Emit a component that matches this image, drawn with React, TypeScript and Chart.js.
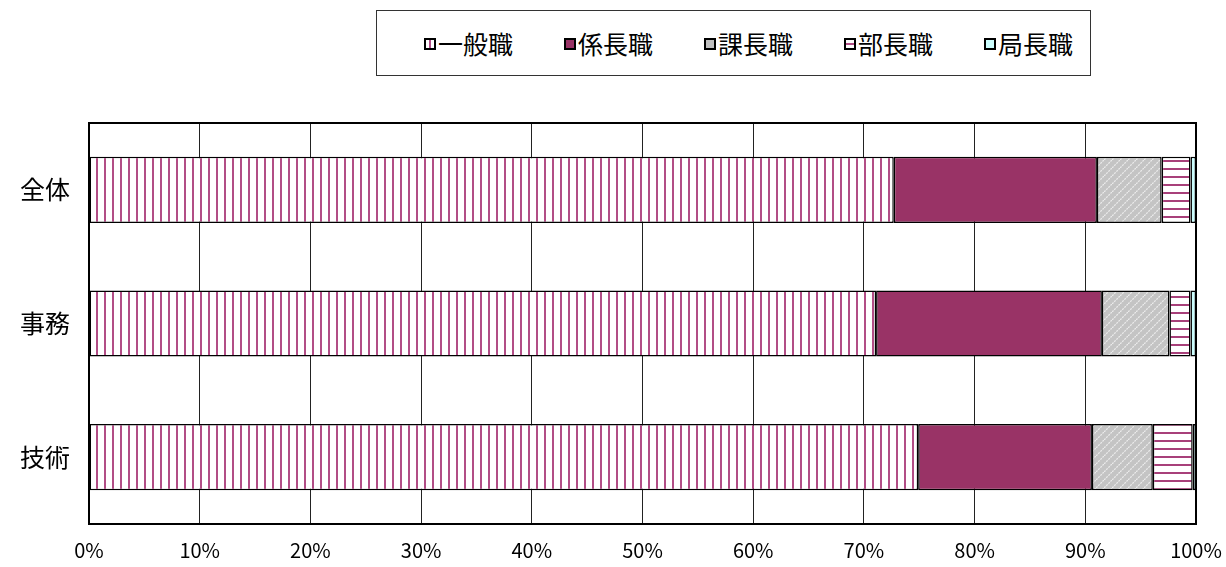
import React, { useEffect, useRef } from "react";
import { Chart, registerables } from "chart.js";

Chart.register(...registerables);

const categories = ["全体", "事務", "技術"];
const seriesNames = ["一般職", "係長職", "課長職", "部長職", "局長職"];
const ippan = [72.7, 71.1, 74.9];
const kakari = [18.35, 20.4, 15.7];
const kacho = [5.85, 6.1, 5.5];
const bucho = [2.6, 1.9, 3.6];
const kyoku = [0.5, 0.5, 0.3];
const xTicks = [0, 10, 20, 30, 40, 50, 60, 70, 80, 90, 100];

const FONT = "'Noto Sans CJK JP', 'Noto Sans', sans-serif";
const MAGENTA = "#993366";

function makePattern(kind: string): CanvasPattern | string {
  const c = document.createElement("canvas");
  c.width = 8;
  c.height = 8;
  const g = c.getContext("2d")!;
  if (kind === "vert") {
    g.fillStyle = "#ffffff";
    g.fillRect(0, 0, 8, 8);
    g.fillStyle = "#b24d86";
    g.fillRect(0, 0, 2, 8);
  } else if (kind === "horiz") {
    g.fillStyle = "#ffffff";
    g.fillRect(0, 0, 8, 8);
    g.fillStyle = "#a8407a";
    g.fillRect(0, 0, 8, 2);
  } else if (kind === "diag") {
    g.fillStyle = "#c4c4c4";
    g.fillRect(0, 0, 8, 8);
    g.strokeStyle = "#ececec";
    g.lineWidth = 1.2;
    g.setLineDash([2, 1]);
    g.beginPath();
    g.moveTo(-2, 10);
    g.lineTo(10, -2);
    g.stroke();
  }
  const p = g.createPattern(c, "repeat");
  return p || "#fff";
}

const swatchBg: string[] = [
  "linear-gradient(90deg,#fff 0 35%,#b24d86 35% 65%,#fff 65% 100%)",
  MAGENTA,
  "#c0c0c0",
  "linear-gradient(180deg,#fff 0 35%,#b24d86 35% 65%,#fff 65% 100%)",
  "#ccffff",
];

export default function App() {
  const ref = useRef<HTMLCanvasElement | null>(null);

  useEffect(() => {
    if (!ref.current) return;
    const fills = [
      makePattern("vert"),
      MAGENTA,
      makePattern("diag"),
      makePattern("horiz"),
      "#ccffff",
    ];
    const values = [ippan, kakari, kacho, bucho, kyoku];

    const borderPlugin = {
      id: "plotBorder",
      afterDatasetsDraw(chart: any) {
        const { ctx, chartArea } = chart;
        ctx.save();
        ctx.strokeStyle = "#000";
        ctx.lineWidth = 2;
        ctx.strokeRect(
          chartArea.left,
          chartArea.top,
          chartArea.right - chartArea.left,
          chartArea.bottom - chartArea.top
        );
        ctx.restore();
      },
    };

    const chart = new Chart(ref.current, {
      type: "bar",
      data: {
        labels: categories,
        datasets: seriesNames.map((name, i) => ({
          label: name,
          data: values[i],
          backgroundColor: fills[i] as any,
          borderColor: "#000",
          borderWidth: 1.5,
          borderSkipped: false,
          categoryPercentage: 1,
          barPercentage: 0.495,
        })),
      },
      options: {
        indexAxis: "y",
        animation: false,
        responsive: false,
        maintainAspectRatio: false,
        layout: { padding: { left: 0, right: 30, top: 123, bottom: 0 } },
        plugins: {
          legend: { display: false },
          tooltip: { enabled: false },
        },
        scales: {
          x: {
            stacked: true,
            min: 0,
            max: 100,
            afterBuildTicks(scale: any) {
              scale.ticks = xTicks.map((v) => ({ value: v }));
            },
            afterFit(scale: any) {
              scale.height = 43;
              scale.paddingLeft = 0;
              scale.paddingRight = 0;
            },
            grid: {
              color: "#222",
              lineWidth: 1,
              drawTicks: false,
            },
            border: { display: false },
            ticks: {
              padding: 14,
              color: "#000",
              font: { family: FONT, size: 20 },
              callback: (v: any) => v + "%",
            },
          },
          y: {
            stacked: true,
            afterFit(scale: any) {
              scale.width = 89;
            },
            grid: { display: false, drawTicks: false },
            border: { display: false },
            ticks: {
              padding: 19,
              color: "#000",
              font: { family: FONT, size: 25 },
            },
          },
        },
      },
      plugins: [borderPlugin],
    });
    return () => chart.destroy();
  }, []);

  return (
    <div
      style={{
        position: "absolute",
        left: 0,
        top: 0,
        width: 1226,
        height: 567,
        background: "#fff",
      }}
    >
      <canvas
        ref={ref}
        width={1226}
        height={567}
        style={{ position: "absolute", left: 0, top: 0, width: 1226, height: 567 }}
      />
      <div
        style={{
          position: "absolute",
          left: 376,
          top: 10,
          width: 713,
          height: 64,
          border: "1px solid #333",
          background: "#fff",
          boxSizing: "content-box",
        }}
      >
        {seriesNames.map((name, i) => (
          <div
            key={name}
            style={{
              position: "absolute",
              left: 47 + i * 140,
              top: 0,
              height: 64,
              display: "flex",
              alignItems: "center",
              fontFamily: FONT,
              fontSize: 25,
              color: "#000",
              whiteSpace: "nowrap",
            }}
          >
            <span
              style={{
                display: "inline-block",
                width: 8,
                height: 8,
                border: "2px solid #000",
                background: swatchBg[i],
                marginRight: 2,
                marginTop: 2,
              }}
            />
            <span style={{ lineHeight: "25px" }}>{name}</span>
          </div>
        ))}
      </div>
    </div>
  );
}
